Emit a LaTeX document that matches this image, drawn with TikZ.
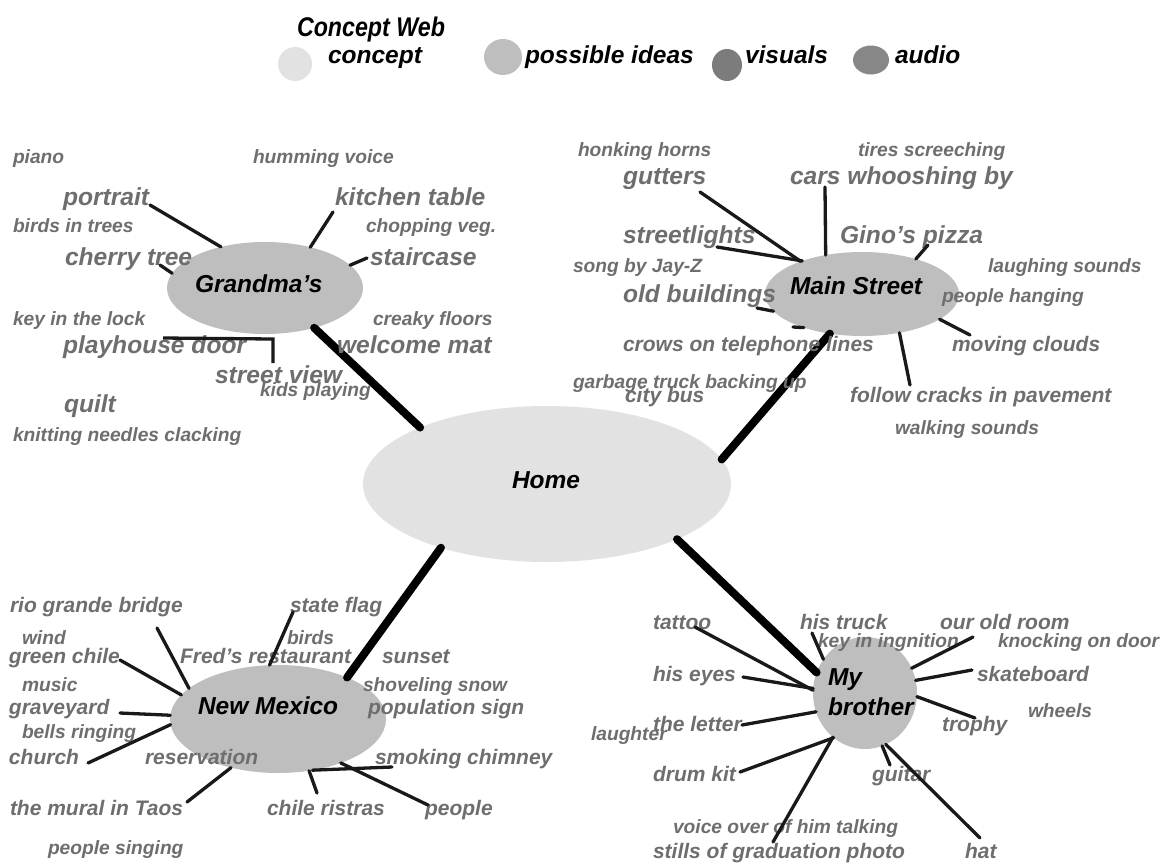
\documentclass[tikz,border=0pt]{standalone}
\usepackage{fontspec}
\setmainfont{Liberation Sans}
\usetikzlibrary{shapes.geometric}
\definecolor{idea}{HTML}{6E6E6E}
\definecolor{homefill}{HTML}{E2E2E2}
\definecolor{bubfill}{HTML}{BEBEBE}
\definecolor{visfill}{HTML}{7C7C7C}
\definecolor{audfill}{HTML}{878787}
\begin{document}
\begin{tikzpicture}[x=1pt,y=-1pt,
  txt/.style={inner sep=0pt, outer sep=0pt, anchor=base west},
  big/.style={txt, text=idea, font=\fontsize{24.6}{26}\selectfont\bfseries\itshape},
  mid/.style={txt, text=idea, font=\fontsize{21}{23}\selectfont\bfseries\itshape},
  small/.style={txt, text=idea, font=\fontsize{19.2}{21}\selectfont\bfseries\itshape},
  lbl/.style={txt, text=black, font=\fontsize{24.5}{26}\selectfont\bfseries\itshape},
  ttl/.style={txt, text=black, font=\fontsize{27}{29}\selectfont\bfseries\itshape},
  bub/.style={ellipse, fill=bubfill, draw=none, inner sep=0pt, outer sep=0pt},
  spoke/.style={line width=3.3pt, line cap=round, black!90},
  trunk/.style={line width=8pt, line cap=round, black},
]
\useasboundingbox (0,0) rectangle (1166,863);
\fill[white] (0,0) rectangle (1166,863);

% ---------- legend ----------
\node[ttl] (title) at (297,36) {\scalebox{0.86}[1]{Concept Web}};
\node[bub, fill=homefill, minimum width=34pt, minimum height=34pt] (lgc) at (295,64) {};
\node[lbl] (lgct) at (328,63) {concept};
\node[bub, minimum width=38pt, minimum height=36pt] (lgp) at (503,57) {};
\node[lbl] (lgpt) at (525,63) {possible ideas};
\node[bub, fill=visfill, minimum width=30pt, minimum height=32pt] (lgv) at (727,65) {};
\node[lbl] (lgvt) at (745,63) {visuals};
\node[bub, fill=audfill, minimum width=36pt, minimum height=29pt] (lga) at (871,60) {};
\node[lbl] (lgat) at (895,63) {audio};

% ---------- bubbles ----------
\node[bub, fill=homefill, minimum width=368pt, minimum height=156pt] (home) at (547,484) {};
\node[bub, minimum width=196pt, minimum height=92pt] (gma) at (265,288) {};
\node[bub, minimum width=194pt, minimum height=84pt] (mst) at (862,294) {};
\node[bub, minimum width=216pt, minimum height=108pt] (nmx) at (278,719) {};
\node[bub, minimum width=104pt, minimum height=112pt] (bro) at (865,693) {};
\node[lbl] (homet) at (512,488) {Home};

% ---------- trunks ----------
\draw[trunk] (home.156) -- (gma.-39);
\draw[trunk] (home.8) -- (mst.231);
\draw[trunk] (home.211) -- (nmx.31);
\draw[trunk] (home.-23) -- (bro.157);

% ---------- Grandma's ----------
\node[small] (g1) at (13,163) {piano};
\node[small] (g2) at (253,163) {humming voice};
\node[big] (g3) at (63,205) {portrait};
\node[big] (g4) at (335,205) {kitchen table};
\node[small] (g5) at (13,232) {birds in trees};
\node[small] (g6) at (366,232) {chopping veg.};
\node[big] (g7) at (65,265) {cherry tree};
\node[big] (g8) at (370,265) {staircase};
\node[small] (g9) at (13,325) {key in the lock};
\node[small] (g10) at (373,325) {creaky floors};
\node[big] (g11) at (63,353) {playhouse door};
\node[big] (g12) at (337,353) {welcome mat};
\node[big] (g13) at (215,383) {street view};
\node[small] (g14) at (260,396) {kids playing};
\node[big] (g15) at (64,412) {quilt};
\node[small] (g16) at (13,441) {knitting needles clacking};
\node[lbl] (gmat) at (195,292) {Grandma's};

\coordinate (gpo) at (150,205);
\coordinate (gki) at (333,212);
\coordinate (gst) at (367,258);
\coordinate (gch) at (160,265);
\coordinate (gb1) at (163,338);
\coordinate (gb2) at (273,339);
\coordinate (gb3) at (273,363);
\draw[spoke] (gpo) -- (gma.137);
\draw[spoke] (gki) -- (gma.42);
\draw[spoke] (gst) -- (gma.15);
\draw[spoke] (gch) -- (gma.171);
\draw[spoke, line cap=butt] (gb1) -- (gb2) -- (gb3);

% ---------- Main Street ----------
\node[small] (m1) at (578,156) {honking horns};
\node[small] (m2) at (858,156) {tires screeching};
\node[big] (m3) at (623,184) {gutters};
\node[big] (m4) at (790,184) {cars whooshing by};
\node[big] (m5) at (623,243) {streetlights};
\node[big] (m6) at (840,243) {Gino's pizza};
\node[small] (m7) at (573,272) {song by Jay-Z};
\node[small] (m8) at (988,272) {laughing sounds};
\node[big] (m9) at (623,302) {old buildings};
\node[small] (m10) at (942,302) {people hanging};
\node[mid] (m11) at (623,351) {crows on telephone lines};
\node[mid] (m12) at (952,351) {moving clouds};
\node[small] (m13) at (573,388) {garbage truck backing up};
\node[mid] (m14) at (625,402) {city bus};
\node[mid] (m15) at (850,402) {follow cracks in pavement};
\node[small] (m16) at (895,434) {walking sounds};
\node[lbl] (mstt) at (790,294) {Main Street};

\coordinate (mgu) at (700,192);
\coordinate (mca) at (825,187);
\coordinate (msl) at (717,247);
\coordinate (mgi) at (928,245);
\coordinate (mob) at (757,308);
\coordinate (mcr) at (793,327);
\coordinate (mmc) at (970,335);
\coordinate (mfc) at (910,385);
\draw[spoke] (mgu) -- (mst.152);
\draw[spoke] (mca) -- (mst.133);
\draw[spoke] (msl) -- (mst.151);
\draw[spoke] (mgi) -- (mst.33);
\draw[spoke] (mob) -- (mst.191);
\draw[spoke] (mcr) -- (mst.210);
\draw[spoke] (mmc) -- (mst.342);
\draw[spoke] (mfc) -- (mst.314);

% ---------- New Mexico ----------
\node[mid] (n1) at (10,612) {rio grande bridge};
\node[mid] (n2) at (290,612) {state flag};
\node[small] (n3) at (22,644) {wind};
\node[small] (n4) at (287,644) {birds};
\node[mid] (n5) at (9,663) {green chile};
\node[mid] (n6) at (180,663) {Fred's restaurant};
\node[mid] (n7) at (382,663) {sunset};
\node[small] (n8) at (22,691) {music};
\node[small] (n9) at (363,691) {shoveling snow};
\node[mid] (n10) at (9,714) {graveyard};
\node[mid] (n11) at (368,714) {population sign};
\node[small] (n12) at (22,738) {bells ringing};
\node[mid] (n13) at (9,764) {church};
\node[mid] (n14) at (145,764) {reservation};
\node[mid] (n15) at (375,764) {smoking chimney};
\node[mid] (n16) at (10,815) {the mural in Taos};
\node[mid] (n17) at (267,815) {chile ristras};
\node[mid] (n18) at (425,815) {people};
\node[small] (n19) at (48,854) {people singing};
\node[lbl] (nmxt) at (198,714) {New Mexico};

\coordinate (nrg) at (157,628);
\coordinate (nsf) at (293,612);
\coordinate (ngc) at (120,660);
\coordinate (ngy) at (120,713);
\coordinate (nch) at (88,763);
\coordinate (nmu) at (187,802);
\coordinate (ncr) at (317,793);
\coordinate (nsm) at (392,767);
\coordinate (npe) at (428,805);
\draw[spoke] (nrg) -- (nmx.161);
\draw[spoke] (nsf) -- (nmx.99);
\draw[spoke] (ngc) -- (nmx.166);
\draw[spoke] (ngy) -- (nmx.178);
\draw[spoke] (nch) -- (nmx.183);
\draw[spoke] (nmu) -- (nmx.226);
\draw[spoke] (ncr) -- (nmx.301);
\draw[spoke] (nsm) -- (nmx.304);
\draw[spoke] (npe) -- (nmx.325);

% ---------- My brother ----------
\node[mid] (b1) at (653,629) {tattoo};
\node[mid] (b2) at (800,629) {his truck};
\node[mid] (b3) at (940,629) {our old room};
\node[small] (b4) at (818,647) {key in ingnition};
\node[small] (b5) at (998,647) {knocking on door};
\node[mid] (b6) at (653,681) {his eyes};
\node[mid] (b7) at (977,681) {skateboard};
\node[small] (b8) at (1028,717) {wheels};
\node[mid] (b9) at (653,731) {the letter};
\node[mid] (b10) at (942,731) {trophy};
\node[small] (b11) at (591,740) {laughter};
\node[mid] (b12) at (653,781) {drum kit};
\node[mid] (b13) at (872,781) {guitar};
\node[small] (b14) at (673,833) {voice over of him talking};
\node[mid] (b15) at (653,858) {stills of graduation photo};
\node[mid] (b16) at (965,858) {hat};
\node[lbl] (brot1) at (828,685) {My};
\node[lbl] (brot2) at (828,715) {brother};

\coordinate (bta) at (695,627);
\coordinate (bey) at (743,677);
\coordinate (btr) at (812,633);
\coordinate (bor) at (973,637);
\coordinate (bsk) at (972,670);
\coordinate (bto) at (975,718);
\coordinate (ble) at (742,725);
\coordinate (bdr) at (740,772);
\coordinate (bsp) at (773,842);
\coordinate (bgu) at (890,765);
\coordinate (bha) at (980,838);
\draw[spoke] (bta) -- (bro.177);
\draw[spoke] (bey) -- (bro.175);
\draw[spoke] (btr) -- (bro.141);
\draw[spoke] (bor) -- (bro.28);
\draw[spoke] (bsk) -- (bro.14);
\draw[spoke] (bto) -- (bro.356);
\draw[spoke] (ble) -- (bro.201);
\draw[spoke] (bdr) -- (bro.235);
\draw[spoke] (bsp) -- (bro.234);
\draw[spoke] (bgu) -- (bro.288);
\draw[spoke] (bha) -- (bro.292);
\end{tikzpicture}
\end{document}
